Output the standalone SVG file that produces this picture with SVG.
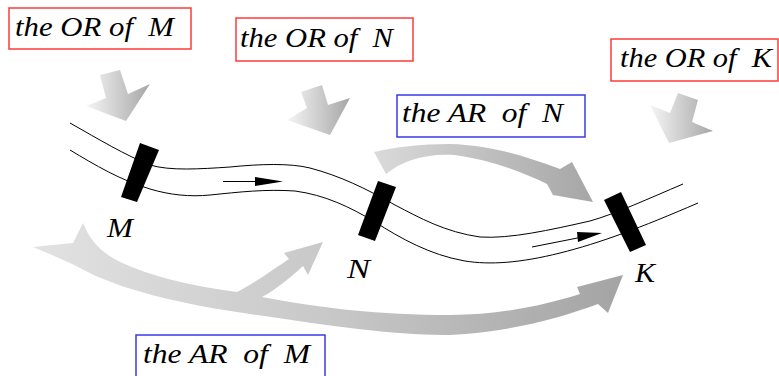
<svg xmlns="http://www.w3.org/2000/svg" width="779" height="376" viewBox="0 0 779 376">
<style>
.txt{font-family:"Liberation Serif","Times New Roman",serif;font-style:italic;font-size:27px;fill:#000;white-space:pre}
.lbl{font-family:"Liberation Serif","Times New Roman",serif;font-style:italic;font-size:27px;fill:#000}
.or{fill:#fff;stroke:#ff3a3a;stroke-width:1.5}
.ar{fill:#fff;stroke:#3a3ae6;stroke-width:1.5}
.pipe{fill:none;stroke:#000;stroke-width:1}
.blk{fill:#000}
</style>
<defs>
<linearGradient id="gd" x1="0" y1="0" x2="1" y2="0">
<stop offset="0" stop-color="#f6f6f6"/>
<stop offset="1" stop-color="#a6a6a6"/>
</linearGradient>
<linearGradient id="gb" x1="0" y1="0" x2="1" y2="0">
<stop offset="0" stop-color="#e2e2e2"/>
<stop offset="0.5" stop-color="#c8c8c8"/>
<stop offset="1" stop-color="#a4a4a4"/>
</linearGradient>
<linearGradient id="gt" x1="0" y1="0" x2="1" y2="0">
<stop offset="0" stop-color="#dadada"/>
<stop offset="1" stop-color="#a6a6a6"/>
</linearGradient>
</defs>

<g id="connectors">
<polygon id="or-m-arrow" fill="url(#gd)" points="100,75 120,70 128,94 150,84 126,121 86,106 106,98"/>
<polygon id="or-n-arrow" fill="url(#gd)" points="301,92 322,85 328,105 350,98 330,135 287,120 307,108"/>
<polygon id="or-k-arrow" fill="url(#gd)" points="678,93 698,100 692,122 713,131 669,143 650,105 670,113"/>
<path id="ar-n-arrow" fill="url(#gt)" d="M374,152 C395,147 420,144 450,144 C490,145 525,156 560,169 L572,162 L593,202 L553,195 L547,184 C520,171 490,160 455,155 C425,153 402,161 386,174 Z"/>
<path id="ar-m-arrow" fill="url(#gb)" d="M33,247 L73,243 L83,223 C90,240 100,252 120,262 C150,276 190,286 237,292 C255,283 275,268 289,259 L284,253 L323,242 L308,275 L303,266 C290,278 275,290 262,297 C320,308 380,315 450,315 C500,315 545,305 580,294 L577,287 L623,275 L608,313 L598,304 C560,318 510,332 450,335 C400,336 330,326 250,314 C180,304 120,290 80,268 C60,258 45,252 33,247 Z"/>
</g>

<g id="pipeline">
<path class="pipe" d="M70,123 C100,140 125,155 150,165 C170,171 200,169 230,167 C260,164 290,163 310,168 C340,176 365,188 395,205 C420,218 445,232 480,237 C510,239 550,230 590,221 C615,214 650,198 683,184"/>
<path class="pipe" d="M70,150 C95,165 120,180 150,189 C170,195 190,197 210,195 C240,192 265,189 295,191 C325,195 350,207 375,222 C400,238 430,255 465,261 C490,265 520,263 560,253 C600,243 640,228 698,203"/>
<line class="pipe" x1="223" y1="181.5" x2="260" y2="181.5"/>
<polygon class="blk" points="255,177 283,181.5 255,186"/>
<line class="pipe" x1="532" y1="247" x2="585" y2="236.5"/>
<polygon class="blk" points="577,232 602,233 578,242"/>
</g>

<g id="node-M">
<polygon class="blk" points="140,143 159,150 137,202 121,197"/>
<text class="lbl" x="107" y="237" textLength="26" lengthAdjust="spacingAndGlyphs">M</text>
</g>
<g id="node-N">
<polygon class="blk" points="378,181 396,187 375,241 358,235"/>
<text class="lbl" x="347" y="278" textLength="23" lengthAdjust="spacingAndGlyphs">N</text>
</g>
<g id="node-K">
<polygon class="blk" points="604,200 621,192 646,245 630,252"/>
<text class="lbl" x="635" y="282" textLength="20" lengthAdjust="spacingAndGlyphs">K</text>
</g>

<g id="box-or-m">
<rect class="or" x="9" y="8" width="182" height="41"/>
<text class="txt" x="15" y="36" textLength="159" lengthAdjust="spacingAndGlyphs">the OR of  M</text>
</g>
<g id="box-or-n">
<rect class="or" x="236" y="18" width="177" height="43"/>
<text class="txt" x="240" y="47" textLength="153" lengthAdjust="spacingAndGlyphs">the OR of  N</text>
</g>
<g id="box-ar-n">
<rect class="ar" x="397" y="95" width="188" height="42"/>
<text class="txt" x="402" y="122" textLength="161" lengthAdjust="spacingAndGlyphs">the AR  of  N</text>
</g>
<g id="box-or-k">
<rect class="or" x="611" y="39" width="167" height="42"/>
<text class="txt" x="620" y="67" textLength="152" lengthAdjust="spacingAndGlyphs">the OR of  K</text>
</g>
<g id="box-ar-m">
<rect class="ar" x="136" y="335" width="189" height="45"/>
<text class="txt" x="143" y="363" textLength="167" lengthAdjust="spacingAndGlyphs">the AR  of  M</text>
</g>
</svg>
